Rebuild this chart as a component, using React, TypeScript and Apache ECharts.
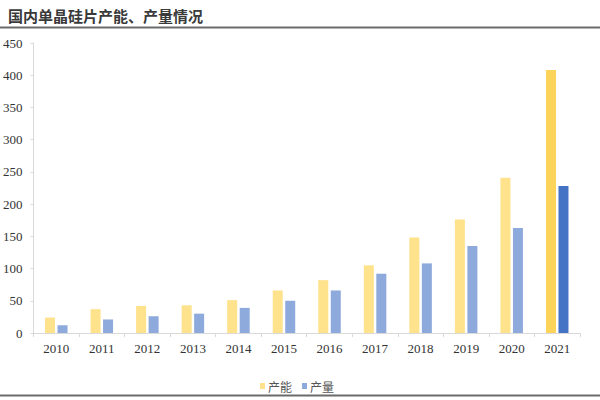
import React, { useEffect, useRef } from "react";
import * as echarts from "echarts";

const years = ["2010", "2011", "2012", "2013", "2014", "2015", "2016", "2017", "2018", "2019", "2020", "2021"];
const capacity = [24, 37, 42, 43, 51, 66, 82, 105, 148, 176, 241, 408];
const output = [12, 21, 26, 30, 39, 50, 66, 92, 108, 135, 163, 228];
const yTicks = [0, 50, 100, 150, 200, 250, 300, 350, 400, 450];

const YELLOW = "#FEE28C";
const YELLOW_DARK = "#FDD45A";
const BLUE = "#8EA9DB";
const BLUE_DARK = "#4472C4";

export default function App() {
  const ref = useRef<HTMLDivElement>(null);
  useEffect(() => {
    if (!ref.current) return;
    const chart = echarts.init(ref.current, null, { renderer: "svg" });
    const last = years.length - 1;
    chart.setOption({
      animation: false,
      backgroundColor: "#ffffff",
      title: {
        text: "国内单晶硅片产能、产量情况",
        left: 3,
        top: 3,
        textStyle: {
          fontFamily: "Noto Sans CJK SC",
          fontSize: 15,
          fontWeight: "bold",
          color: "#3a3a3a",
        },
      },
      graphic: [
        { type: "line", shape: { x1: 0, y1: 27.5, x2: 600, y2: 27.5 }, style: { stroke: "#6b6b6b", lineWidth: 2 } },
        { type: "line", shape: { x1: 0, y1: 395.5, x2: 600, y2: 395.5 }, style: { stroke: "#6b6b6b", lineWidth: 2 } },
      ],
      legend: {
        left: 255,
        top: 375,
        itemWidth: 5,
        itemHeight: 6,
        itemGap: 10,
        icon: "rect",
        textStyle: { fontFamily: "Noto Sans CJK SC", fontSize: 12, color: "#555", padding: [0, 0, 0, -2] },
        data: ["产能", "产量"],
      },
      grid: { left: 31, right: 20, top: 43, bottom: 67 },
      xAxis: {
        type: "category",
        data: years,
        boundaryGap: true,
        axisLine: { lineStyle: { color: "#d9d9d9" } },
        axisTick: { show: true, length: 4, lineStyle: { color: "#d9d9d9" } },
        axisLabel: { fontFamily: "Liberation Serif", fontSize: 13, color: "#333", margin: 9 },
      },
      yAxis: {
        type: "value",
        min: yTicks[0],
        max: yTicks[yTicks.length - 1],
        interval: 50,
        splitLine: { show: false },
        axisLine: { show: true, lineStyle: { color: "#d9d9d9" } },
        axisTick: { show: true, length: 3, lineStyle: { color: "#d9d9d9" } },
        axisLabel: { fontFamily: "Liberation Serif", fontSize: 13, color: "#333", margin: 11 },
      },
      series: [
        {
          name: "产能",
          type: "bar",
          barWidth: 10,
          barGap: "25%",
          itemStyle: { color: YELLOW },
          data: capacity.map((v, i) => (i === last ? { value: v, itemStyle: { color: YELLOW_DARK } } : v)),
        },
        {
          name: "产量",
          type: "bar",
          barWidth: 10,
          barGap: "25%",
          itemStyle: { color: BLUE },
          data: output.map((v, i) => (i === last ? { value: v, itemStyle: { color: BLUE_DARK } } : v)),
        },
      ],
    });
    return () => chart.dispose();
  }, []);
  return <div ref={ref} style={{ width: 600, height: 400, position: "fixed", left: 0, top: 0 }} />;
}
